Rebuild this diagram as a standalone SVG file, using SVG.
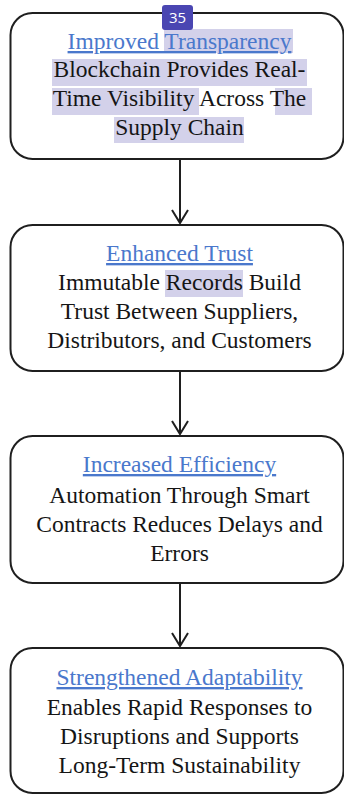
<svg xmlns="http://www.w3.org/2000/svg" width="344" height="794" viewBox="0 0 344 794">
  <style>
    .box { fill: #ffffff; stroke: #1f1f1f; stroke-width: 2; }
    .hl { fill: #d3d1ea; }
    .serif { font-family: 'Liberation Serif', serif; font-size: 23.5px; text-anchor: middle; }
    .title { fill: #4a78cc; text-decoration: underline; }
    .txt { fill: #151515; }
    .edge { fill: none; stroke: #1f1f1f; stroke-width: 2; }
    .badge { fill: #4a46b2; }
    .badge-text { font-family: 'Open Sans', 'Noto Sans', sans-serif; font-size: 15px; fill: #ffffff; text-anchor: middle; }
  </style>
  <defs>
    <marker id="arrow" viewBox="0 0 20 20" refX="16" refY="10" markerWidth="20" markerHeight="20" markerUnits="userSpaceOnUse" orient="auto">
      <path d="M3,2 L16,10 L3,18" fill="none" stroke="#1f1f1f" stroke-width="2"/>
    </marker>
  </defs>

  <!-- connectors -->
  <g id="connectors">
    <line class="edge" x1="180" y1="160" x2="180" y2="223" marker-end="url(#arrow)"/>
    <line class="edge" x1="180" y1="372" x2="180" y2="434" marker-end="url(#arrow)"/>
    <line class="edge" x1="180" y1="584" x2="180" y2="646" marker-end="url(#arrow)"/>
  </g>

  <!-- node 1 -->
  <g id="node-transparency">
    <rect class="box" x="10.5" y="13" width="333" height="146" rx="22"/>
    <rect class="hl" x="164" y="29" width="129" height="24"/>
    <rect class="hl" x="52" y="59" width="255" height="27"/>
    <rect class="hl" x="52" y="88" width="147" height="27"/>
    <rect class="hl" x="275" y="88" width="37" height="27"/>
    <rect class="hl" x="114" y="117" width="130" height="26"/>
    <text class="serif title" x="179.5" y="49">Improved Transparency</text>
    <text class="serif txt" x="179.5" y="77">Blockchain Provides Real-</text>
    <text class="serif txt" x="179.5" y="106">Time Visibility Across The</text>
    <text class="serif txt" x="179.5" y="135">Supply Chain</text>
  </g>

  <!-- node 2 -->
  <g id="node-trust">
    <rect class="box" x="10.5" y="225" width="333" height="146" rx="22"/>
    <rect class="hl" x="165" y="270" width="78" height="27"/>
    <text class="serif title" x="179.5" y="261">Enhanced Trust</text>
    <text class="serif txt" x="179.5" y="290">Immutable Records Build</text>
    <text class="serif txt" x="179.5" y="319">Trust Between Suppliers,</text>
    <text class="serif txt" x="179.5" y="348">Distributors, and Customers</text>
  </g>

  <!-- node 3 -->
  <g id="node-efficiency">
    <rect class="box" x="10.5" y="436" width="333" height="147" rx="22"/>
    <text class="serif title" x="179.5" y="472">Increased Efficiency</text>
    <text class="serif txt" x="179.5" y="503">Automation Through Smart</text>
    <text class="serif txt" x="179.5" y="532">Contracts Reduces Delays and</text>
    <text class="serif txt" x="179.5" y="561">Errors</text>
  </g>

  <!-- node 4 -->
  <g id="node-adaptability">
    <rect class="box" x="10.5" y="648" width="333" height="145" rx="22"/>
    <text class="serif title" x="179.5" y="685">Strengthened Adaptability</text>
    <text class="serif txt" x="179.5" y="715">Enables Rapid Responses to</text>
    <text class="serif txt" x="179.5" y="744">Disruptions and Supports</text>
    <text class="serif txt" x="179.5" y="773">Long-Term Sustainability</text>
  </g>

  <!-- page badge -->
  <g id="badge">
    <rect class="badge" x="162" y="5" width="31" height="25" rx="3"/>
    <text class="badge-text" x="177.5" y="23">35</text>
  </g>
</svg>
